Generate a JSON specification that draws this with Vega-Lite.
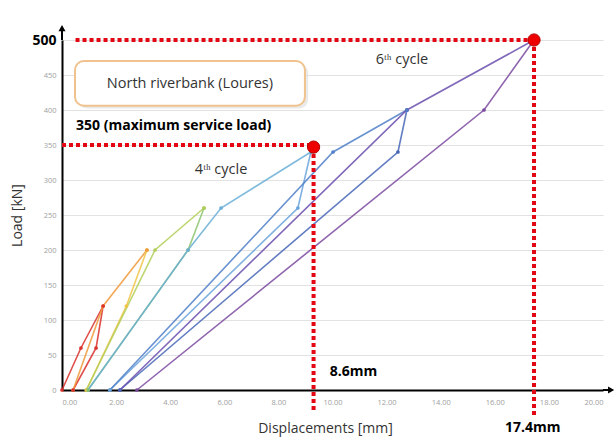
{
  "$schema": "https://vega.github.io/schema/vega-lite/v6.json",
  "width": 541,
  "height": 350,
  "autosize": "none",
  "padding": {"left": 62, "top": 40, "right": 12, "bottom": 52},
  "background": "white",
  "config": {"view": {"stroke": null}, "font": "Open Sans"},
  "datasets": {
    "curves": [
      {"series": "s01", "o": 1, "x": 0, "y": 0},
      {"series": "s01", "o": 2, "x": 0.7, "y": 60},
      {"series": "s01", "o": 3, "x": 1.52, "y": 120},
      {"series": "s01", "o": 4, "x": 1.26, "y": 60},
      {"series": "s01", "o": 5, "x": 0.41, "y": 0},
      {"series": "s02", "o": 1, "x": 0.41, "y": 0},
      {"series": "s02", "o": 2, "x": 1.52, "y": 120},
      {"series": "s02", "o": 3, "x": 3.14, "y": 200},
      {"series": "s03", "o": 1, "x": 3.14, "y": 200},
      {"series": "s03", "o": 2, "x": 2.38, "y": 120},
      {"series": "s03", "o": 3, "x": 0.9, "y": 0},
      {"series": "s04", "o": 1, "x": 0.9, "y": 0},
      {"series": "s04", "o": 2, "x": 3.44, "y": 200},
      {"series": "s04", "o": 3, "x": 5.25, "y": 260},
      {"series": "s05", "o": 1, "x": 5.25, "y": 260},
      {"series": "s05", "o": 2, "x": 4.66, "y": 200},
      {"series": "s05", "o": 3, "x": 0.96, "y": 0},
      {"series": "s06", "o": 1, "x": 0.96, "y": 0},
      {"series": "s06", "o": 2, "x": 4.66, "y": 200},
      {"series": "s06", "o": 3, "x": 5.88, "y": 260},
      {"series": "s06", "o": 4, "x": 9.2, "y": 340},
      {"series": "s07", "o": 1, "x": 9.2, "y": 340},
      {"series": "s07", "o": 2, "x": 8.72, "y": 260},
      {"series": "s07", "o": 3, "x": 1.77, "y": 0},
      {"series": "s08", "o": 1, "x": 1.77, "y": 0},
      {"series": "s08", "o": 2, "x": 10.02, "y": 340},
      {"series": "s08", "o": 3, "x": 12.75, "y": 400},
      {"series": "s09", "o": 1, "x": 12.75, "y": 400},
      {"series": "s09", "o": 2, "x": 12.42, "y": 340},
      {"series": "s09", "o": 3, "x": 2.14, "y": 0},
      {"series": "s10", "o": 1, "x": 2.14, "y": 0},
      {"series": "s10", "o": 2, "x": 12.75, "y": 400},
      {"series": "s10", "o": 3, "x": 17.45, "y": 500},
      {"series": "s11", "o": 1, "x": 17.45, "y": 500},
      {"series": "s11", "o": 2, "x": 15.6, "y": 400},
      {"series": "s11", "o": 3, "x": 2.77, "y": 0}
    ],
    "hrules": [
      {"x": 0, "x2": 9.3, "y": 350},
      {"x": 0.5, "x2": 17.45, "y": 500}
    ],
    "vrules": [
      {"x": 9.3, "y": 347, "y2": -30},
      {"x": 17.45, "y": 500, "y2": -40}
    ],
    "dots": [
      {"x": 9.3, "y": 347},
      {"x": 17.45, "y": 500}
    ],
    "bold": [
      {"t": "350 (maximum service load)", "x": 0.52, "y": 377},
      {"t": "8.6mm", "x": 9.9, "y": 26},
      {"t": "17.4mm", "x": 16.38, "y": -54}
    ],
    "plain": [
      {"t": "4ᵗʰ cycle", "x": 5.88, "y": 314},
      {"t": "6ᵗʰ cycle", "x": 12.57, "y": 471},
      {"t": "North riverbank (Loures)", "x": 4.73, "y": 437}
    ],
    "shadow": [
      {"x": 0.6, "x2": 9.1, "y": 466, "y2": 402}
    ],
    "box": [
      {"x": 0.48, "x2": 8.98, "y": 470, "y2": 406}
    ],
    "yarrow": [{"x": 0, "y": 500, "y2": 517}],
    "xarrow": [{"x": 20, "x2": 20.3, "y": 0}]
  },
  "encoding": {
    "x": {"field": "x", "type": "quantitative", "scale": {"domain": [0, 20], "nice": false, "zero": false},
      "axis": {"values": [0, 2, 4, 6, 8, 10, 12, 14, 16, 18, 20], "format": ".2f", "grid": false, "ticks": false, "labelOverlap": false,
        "domainColor": "black", "domainWidth": 2, "labelColor": "#a0a0a0", "labelFontSize": 7.5, "labelPadding": 8,
        "title": "Displacements [mm]", "titleFontSize": 14, "titleFontWeight": "normal", "titleColor": "#333333",
        "titleX": 263, "titleY": 38, "titleBaseline": "middle", "titleAlign": "center"}},
    "y": {"field": "y", "type": "quantitative", "scale": {"domain": [0, 500], "nice": false, "zero": false},
      "axis": {"values": [0, 50, 100, 150, 200, 250, 300, 350, 400, 450, 500], "grid": true, "gridColor": "#e2e2e2", "ticks": false, "labelOverlap": false,
        "domainColor": "black", "domainWidth": 2, "labelPadding": 6,
        "labelColor": {"condition": {"test": "datum.value === 500", "value": "black"}, "value": "#a0a0a0"},
        "labelFontSize": {"condition": {"test": "datum.value === 500", "value": 14}, "value": 7.5},
        "labelFontWeight": {"condition": {"test": "datum.value === 500", "value": "bold"}, "value": "normal"},
        "title": "Load [kN]", "titleFontSize": 14, "titleFontWeight": "normal", "titleColor": "#333333",
        "titleX": -45, "titleY": 175, "titleAngle": 270, "titleAlign": "center", "titleBaseline": "middle"}}
  },
  "layer": [
    {
      "data": {"name": "shadow"},
      "mark": {"type": "rect", "fill": "#dcdcdc", "opacity": 0.6, "cornerRadius": 9, "clip": false},
      "encoding": {"x2": {"field": "x2"}, "y2": {"field": "y2"}}
    },
    {
      "data": {"name": "box"},
      "mark": {"type": "rect", "fill": "white", "stroke": "#f0c28e", "strokeWidth": 2, "cornerRadius": 9, "clip": false},
      "encoding": {"x2": {"field": "x2"}, "y2": {"field": "y2"}}
    },
    {
      "data": {"name": "plain"},
      "mark": {"type": "text", "fontSize": 14.5, "color": "#333333", "align": "center", "baseline": "middle", "clip": false},
      "encoding": {"text": {"field": "t"}}
    },
    {
      "data": {"name": "curves"},
      "mark": {"type": "line", "strokeWidth": 1.6, "opacity": 0.85, "clip": false, "point": {"size": 14, "filled": true}},
      "encoding": {
        "order": {"field": "o", "type": "quantitative"},
        "color": {"field": "series", "type": "nominal", "legend": null,
          "scale": {"domain": ["s01", "s02", "s03", "s04", "s05", "s06", "s07", "s08", "s09", "s10", "s11"],
            "range": ["#d9302c", "#ee9a3a", "#f0c444", "#b3cf58", "#8cc46e", "#6aaed6", "#6aa3da", "#4f7fc8", "#4766b6", "#6a4eae", "#7b4aa0"]}}
      }
    },
    {
      "data": {"name": "hrules"},
      "mark": {"type": "rule", "color": "#e30613", "strokeWidth": 4, "strokeDash": [4, 3], "clip": false},
      "encoding": {"x2": {"field": "x2"}}
    },
    {
      "data": {"name": "vrules"},
      "mark": {"type": "rule", "color": "#e30613", "strokeWidth": 4, "strokeDash": [4, 3], "clip": false},
      "encoding": {"y2": {"field": "y2"}}
    },
    {
      "data": {"name": "dots"},
      "mark": {"type": "point", "filled": true, "size": 150, "color": "#ee0000", "stroke": "#b00000", "strokeWidth": 1, "opacity": 1, "clip": false},
      "encoding": {}
    },
    {
      "data": {"name": "bold"},
      "mark": {"type": "text", "fontSize": 14, "fontWeight": "bold", "color": "black", "align": "left", "baseline": "middle", "clip": false},
      "encoding": {"text": {"field": "t"}}
    },
    {
      "data": {"name": "yarrow"},
      "mark": {"type": "rule", "color": "black", "strokeWidth": 2, "clip": false},
      "encoding": {"y2": {"field": "y2"}}
    },
    {
      "data": {"name": "yarrow"},
      "mark": {"type": "point", "shape": "triangle-up", "filled": true, "size": 50, "color": "black", "opacity": 1, "clip": false},
      "encoding": {"y": {"field": "y2", "type": "quantitative"}}
    },
    {
      "data": {"name": "xarrow"},
      "mark": {"type": "rule", "color": "black", "strokeWidth": 2, "clip": false},
      "encoding": {"x2": {"field": "x2"}}
    },
    {
      "data": {"name": "xarrow"},
      "mark": {"type": "point", "shape": "triangle-right", "filled": true, "size": 50, "color": "black", "opacity": 1, "clip": false},
      "encoding": {"x": {"field": "x2", "type": "quantitative"}}
    }
  ]
}
